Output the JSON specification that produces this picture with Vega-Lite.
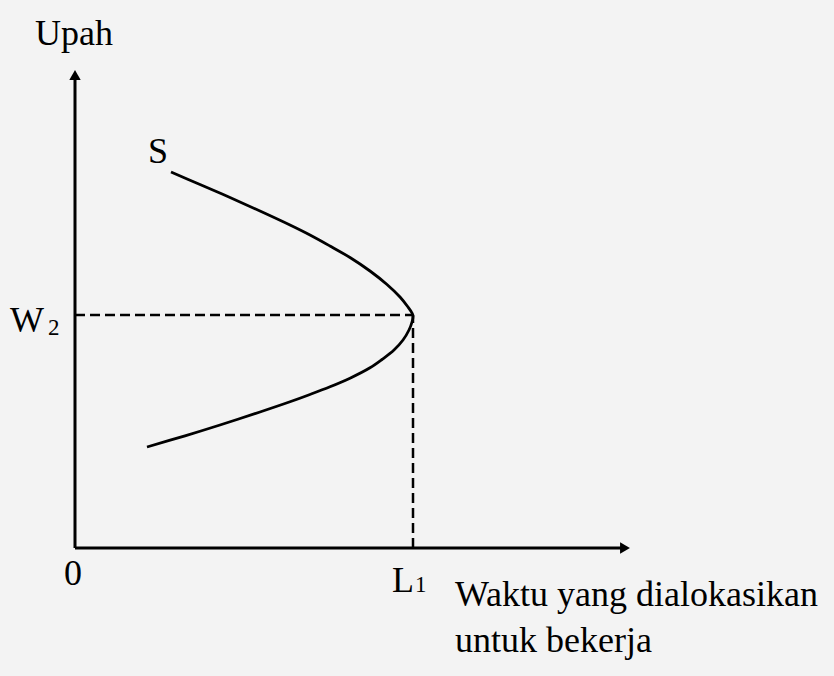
{
  "$schema": "https://vega.github.io/schema/vega-lite/v6.json",
  "autosize": {"type": "fit", "contains": "padding"},
  "width": 834,
  "height": 676,
  "padding": 0,
  "background": "#f3f3f3",
  "config": {"view": {"stroke": null}},
  "datasets": {
    "axes": [
      {"x": 0, "y": 0, "x2": 0, "y2": 47.3},
      {"x": 0, "y": 0, "x2": 55.0, "y2": 0}
    ],
    "arrows": [
      {"x": 0, "y": 47.3, "dir": "up"},
      {"x": 55.0, "y": 0, "dir": "right"}
    ],
    "guides": [
      {"x": 0, "y": 23.3, "x2": 33.8, "y2": 23.3},
      {"x": 33.8, "y": 0, "x2": 33.8, "y2": 23.3}
    ],
    "supply": [
      {"i": 1, "x": 9.6, "y": 37.6},
      {"i": 2, "x": 12.5, "y": 36.35},
      {"i": 3, "x": 15.5, "y": 35.05},
      {"i": 4, "x": 18.5, "y": 33.7},
      {"i": 5, "x": 21.5, "y": 32.3},
      {"i": 6, "x": 23.5, "y": 31.3},
      {"i": 7, "x": 25.5, "y": 30.2},
      {"i": 8, "x": 27.5, "y": 29.05},
      {"i": 9, "x": 29.5, "y": 27.7},
      {"i": 10, "x": 31.2, "y": 26.35},
      {"i": 11, "x": 32.5, "y": 25.1},
      {"i": 12, "x": 33.3, "y": 24.1},
      {"i": 13, "x": 33.7, "y": 23.5},
      {"i": 14, "x": 33.8, "y": 23.2},
      {"i": 15, "x": 33.7, "y": 22.6},
      {"i": 16, "x": 33.4, "y": 21.8},
      {"i": 17, "x": 32.8, "y": 20.8},
      {"i": 18, "x": 31.9, "y": 19.8},
      {"i": 19, "x": 30.7, "y": 18.85},
      {"i": 20, "x": 29.5, "y": 18.02},
      {"i": 21, "x": 27.5, "y": 16.98},
      {"i": 22, "x": 25.5, "y": 16.12},
      {"i": 23, "x": 23.5, "y": 15.35},
      {"i": 24, "x": 21.5, "y": 14.62},
      {"i": 25, "x": 18.5, "y": 13.6},
      {"i": 26, "x": 14.5, "y": 12.3},
      {"i": 27, "x": 11.0, "y": 11.22},
      {"i": 28, "x": 7.2, "y": 10.1}
    ],
    "labels": [
      {"text": "Upah", "x": -4.0, "y": 50.3},
      {"text": "S", "x": 7.3, "y": 38.5},
      {"text": "W", "x": -6.5, "y": 21.6},
      {"text": "0", "x": -1.1, "y": -3.7},
      {"text": "L", "x": 31.7, "y": -4.4},
      {"text": "Waktu yang dialokasikan", "x": 38.0, "y": -5.8},
      {"text": "untuk bekerja", "x": 38.0, "y": -10.4}
    ],
    "subscripts": [
      {"text": "2", "x": -2.7, "y": 21.3},
      {"text": "1", "x": 34.0, "y": -4.4}
    ]
  },
  "encoding": {
    "x": {"field": "x", "type": "quantitative", "axis": null,
          "scale": {"domain": [-7.5, 75.9], "nice": false, "zero": false}},
    "y": {"field": "y", "type": "quantitative", "axis": null,
          "scale": {"domain": [-12.8, 54.8], "nice": false, "zero": false}}
  },
  "layer": [
    {
      "data": {"name": "axes"},
      "mark": {"type": "rule", "color": "#000000", "strokeWidth": 3},
      "encoding": {"x2": {"field": "x2"}, "y2": {"field": "y2"}}
    },
    {
      "data": {"name": "arrows"},
      "mark": {"type": "point", "filled": true, "opacity": 1, "color": "#000000", "size": 130},
      "encoding": {
        "shape": {"field": "dir", "type": "nominal", "legend": null,
                  "scale": {"domain": ["up", "right"], "range": ["triangle-up", "triangle-right"]}}
      }
    },
    {
      "data": {"name": "guides"},
      "mark": {"type": "rule", "color": "#000000", "strokeWidth": 2.5, "strokeDash": [10, 5]},
      "encoding": {"x2": {"field": "x2"}, "y2": {"field": "y2"}}
    },
    {
      "data": {"name": "supply"},
      "mark": {"type": "line", "color": "#000000", "strokeWidth": 2.8, "interpolate": "catmull-rom"},
      "encoding": {"order": {"field": "i", "type": "quantitative"}}
    },
    {
      "data": {"name": "labels"},
      "mark": {"type": "text", "font": "Liberation Serif", "fontSize": 36, "align": "left", "baseline": "alphabetic", "color": "#000000"},
      "encoding": {"text": {"field": "text"}}
    },
    {
      "data": {"name": "subscripts"},
      "mark": {"type": "text", "font": "Liberation Serif", "fontSize": 23, "align": "left", "baseline": "alphabetic", "color": "#000000"},
      "encoding": {"text": {"field": "text"}}
    }
  ]
}
